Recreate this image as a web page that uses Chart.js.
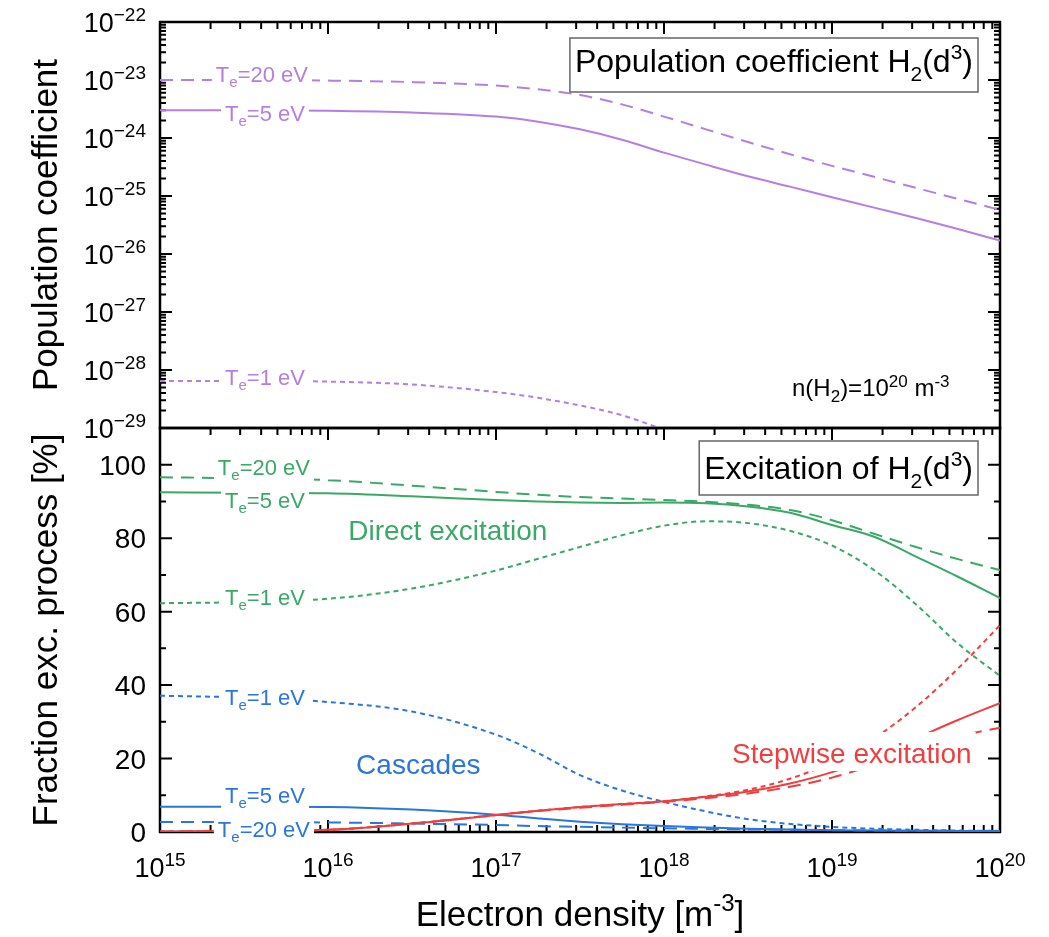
<!DOCTYPE html>
<html>
<head>
<meta charset="utf-8">
<script src="https://cdn.jsdelivr.net/npm/chart.js@4.4.1/dist/chart.umd.min.js"></script>
<style>
  html, body { margin: 0; padding: 0; background: #fff; }
  #wrap { position: relative; width: 1049px; height: 937px; }
  #wrap canvas { position: absolute; left: 0; top: 0; }
</style>
</head>
<body>
<div id="wrap">
  <canvas id="popChart" width="1049" height="937"></canvas>
  <canvas id="fracChart" width="1049" height="937"></canvas>
</div>
<script>
// electron density grid (m^-3)
const density = [1e15, 3.16e15, 1e16, 3.16e16, 1e17, 1.78e17, 3.16e17, 5.62e17, 1e18,
  1.78e18, 3.16e18, 5.62e18, 1e19, 1.78e19, 3.16e19, 5.62e19, 1e20];

// population coefficient H2(d3)
const pop20 = [1.0e-23, 1.0e-23, 9.77e-24, 9.2e-24, 8.0e-24, 6.9e-24, 5.5e-24, 3.8e-24, 2.34e-24,
  1.41e-24, 8.51e-25, 5.25e-25, 3.31e-25, 2.14e-25, 1.38e-25, 8.91e-26, 5.75e-26];
const pop5 = [3.02e-24, 3.02e-24, 2.95e-24, 2.75e-24, 2.34e-24, 1.91e-24, 1.41e-24, 9.33e-25, 5.6e-25,
  3.47e-25, 2.19e-25, 1.45e-25, 9.55e-26, 6.31e-26, 4.17e-26, 2.69e-26, 1.7e-26];
const pop1 = [6.46e-29, 6.46e-29, 6.31e-29, 5.62e-29, 4.17e-29, 3.31e-29, 2.45e-29, 1.66e-29, 9.33e-30,
  5.0e-30, 2.5e-30, null, null, null, null, null, null];

// fraction of excitation process [%]
const direct20 = [96.6, 96.3, 95.8, 94.3, 92.6, 91.8, 91.2, 90.8, 90.4, 89.9, 89.1, 87.7, 84.9, 81.2, 77.6, 74.3, 71.3];
const direct5 = [92.5, 92.4, 92.2, 91.4, 90.4, 90.0, 89.7, 89.6, 89.7, 89.5, 88.6, 86.9, 83.6, 80.4, 75.0, 69.5, 63.7];
const direct1 = [62.3, 62.6, 63.5, 66.3, 71.2, 74.4, 77.6, 80.8, 83.4, 84.6, 84.1, 82.0, 78.0, 71.3, 62.0, 51.3, 42.5];
const cascade1 = [37.1, 36.6, 35.4, 32.8, 26.5, 21.5, 15.5, 11.3, 8.2, 5.6, 3.5, 2.2, 1.4, 0.9, 0.6, 0.4, 0.3];
const cascade5 = [6.9, 6.9, 6.8, 6.1, 4.7, 3.7, 2.8, 2.1, 1.6, 1.2, 0.9, 0.7, 0.5, 0.4, 0.35, 0.3, 0.3];
const cascade20 = [2.7, 2.7, 2.6, 2.3, 1.9, 1.6, 1.4, 1.2, 1.0, 0.85, 0.7, 0.6, 0.5, 0.4, 0.35, 0.3, 0.3];
const step1 = [0.1, 0.3, 0.6, 2.3, 4.6, 5.8, 6.8, 7.6, 8.4, 9.7, 11.5, 14.5, 19.0, 25.5, 34.0, 44.5, 56.3];
const step5 = [0.1, 0.3, 0.6, 2.3, 4.6, 5.8, 6.8, 7.6, 8.4, 9.6, 11.0, 13.2, 16.3, 20.5, 25.5, 30.5, 35.1];
const step20 = [0.1, 0.3, 0.6, 2.3, 4.6, 5.7, 6.6, 7.4, 8.2, 9.2, 10.5, 12.3, 14.8, 18.3, 22.5, 26.0, 28.4];

// tick labels
const xTicks = [1e15, 1e16, 1e17, 1e18, 1e19, 1e20];
const xTickExp = ['15', '16', '17', '18', '19', '20'];
const popTicks = [1e-22, 1e-23, 1e-24, 1e-25, 1e-26, 1e-27, 1e-28, 1e-29];
const popTickExp = ['\u221222', '\u221223', '\u221224', '\u221225', '\u221226', '\u221227', '\u221228', '\u221229'];
const fracTicks = [0, 20, 40, 60, 80, 100];

const FONT = '"Liberation Sans", Arial, sans-serif';
const PURPLE = '#b47fe4', GREEN = '#3aa866', BLUE = '#2a76dc', RED = '#f03e3e';
const SOLID = [], DASHED = [13, 8], DOTTED = [5, 4];

const series = (values, color, dash) => ({
  data: values.map((v, i) => ({ x: density[i], y: v })),
  borderColor: color,
  borderDash: dash,
  borderWidth: 2,
  pointRadius: 0,
  fill: false,
  cubicInterpolationMode: 'monotone'
});

// draws text made of parts [text, size, dy]
function rich(ctx, x, y, parts, align) {
  let w = textWidth(ctx, parts);
  let cx = align === 'right' ? x - w : align === 'center' ? x - w / 2 : x;
  ctx.textAlign = 'left';
  ctx.textBaseline = 'alphabetic';
  parts.forEach(p => {
    ctx.font = p[1] + 'px ' + FONT;
    ctx.fillText(p[0], cx, y + (p[2] || 0));
    cx += ctx.measureText(p[0]).width;
  });
  return w;
}

function textWidth(ctx, parts) {
  let w = 0;
  parts.forEach(p => { ctx.font = p[1] + 'px ' + FONT; w += ctx.measureText(p[0]).width; });
  return w;
}

const te = (val) => [['T', 22], ['e', 15, 5], ['=' + val + ' eV', 22]];
const pow10 = (exp) => [['10', 27], [exp, 19, -11]];

function panelPlugin(cfg) {
  return {
    id: 'panel',
    beforeDatasetsDraw(chart) {
      const { ctx, chartArea: a, scales: { x, y } } = chart;
      ctx.save();
      ctx.strokeStyle = '#000';
      ctx.lineWidth = 2;
      ctx.beginPath();
      for (let d = 15; d <= 20; d++) {
        for (let m = 1; m <= 9; m++) {
          if (d === 20 && m > 1) break;
          const px = x.getPixelForValue(m * Math.pow(10, d));
          const len = m === 1 ? 12 : 7;
          ctx.moveTo(px, a.top); ctx.lineTo(px, a.top + len);
          if (cfg.tickBottom) { ctx.moveTo(px, a.bottom); ctx.lineTo(px, a.bottom - len); }
        }
      }
      cfg.yTicks.forEach(t => {
        const py = y.getPixelForValue(t.v);
        ctx.moveTo(a.left, py); ctx.lineTo(a.left + t.len, py);
        ctx.moveTo(a.right, py); ctx.lineTo(a.right - t.len, py);
      });
      ctx.stroke();
      ctx.lineWidth = 2.5;
      ctx.strokeRect(a.left, a.top, a.width, a.height);
      ctx.restore();
    },
    afterDatasetsDraw(chart) {
      const { ctx, chartArea: a, scales: { x, y } } = chart;
      ctx.save();
      // curve labels with white background
      cfg.labels.forEach(l => {
        const px = x.getPixelForValue(l.x), py = y.getPixelForValue(l.y);
        const w = textWidth(ctx, l.parts);
        const up = l.parts.length === 1 ? 31 : 19;
        ctx.fillStyle = '#fff';
        ctx.fillRect(px - 4, py - up, w + 8, up + 8);
        ctx.fillStyle = l.color;
        rich(ctx, px, py, l.parts, 'left');
      });
      // title box
      const b = cfg.box;
      const bw = textWidth(ctx, b.parts) + 10;
      const bx = a.right - 22 - bw, by = a.top + b.top;
      ctx.fillStyle = '#fff';
      ctx.fillRect(bx, by, bw, 54);
      ctx.strokeStyle = '#666';
      ctx.lineWidth = 1.5;
      ctx.strokeRect(bx, by, bw, 54);
      ctx.fillStyle = '#000';
      rich(ctx, bx + 5, by + b.base, b.parts, 'left');
      if (cfg.note) {
        rich(ctx, x.getPixelForValue(cfg.note.x), y.getPixelForValue(cfg.note.y), cfg.note.parts, 'left');
      }
      // y tick labels
      cfg.yLabels.forEach(t => {
        rich(ctx, a.left - 14, y.getPixelForValue(t.v) + 10, t.parts, 'right');
      });
      // x tick labels
      if (cfg.xLabels) {
        xTicks.forEach((v, i) => {
          rich(ctx, x.getPixelForValue(v), a.bottom + 45, pow10(xTickExp[i]), 'center');
        });
        rich(ctx, (a.left + a.right) / 2, 926,
          [['Electron density [m', 35], ['-3', 24, -15], [']', 35]], 'center');
      }
      // y title
      ctx.translate(57, (a.top + a.bottom) / 2);
      ctx.rotate(-Math.PI / 2);
      ctx.fillStyle = '#000';
      ctx.font = '35px ' + FONT;
      ctx.textAlign = 'center';
      ctx.textBaseline = 'alphabetic';
      ctx.fillText(cfg.yTitle, 0, 0);
      ctx.restore();
    }
  };
}

function options(yScale, padTop, padBottom) {
  return {
    responsive: false,
    animation: false,
    layout: { padding: { left: 160, right: 49, top: padTop, bottom: padBottom } },
    plugins: { legend: { display: false }, tooltip: { enabled: false } },
    scales: {
      x: { type: 'logarithmic', min: 1e15, max: 1e20, display: false },
      y: yScale
    }
  };
}

// top panel
const popMinor = [];
for (let d = -29; d <= -22; d++) {
  for (let m = 1; m <= 9; m++) {
    if (d === -22 && m > 1) break;
    popMinor.push({ v: m * Math.pow(10, d), len: m === 1 ? 12 : 6 });
  }
}

new Chart(document.getElementById('popChart'), {
  type: 'line',
  data: {
    datasets: [
      series(pop20, PURPLE, DASHED),
      series(pop5, PURPLE, SOLID),
      series(pop1, PURPLE, DOTTED)
    ]
  },
  options: options({ type: 'logarithmic', min: 1e-29, max: 1e-22, display: false }, 22, 509),
  plugins: [panelPlugin({
    tickBottom: false,
    yTicks: popMinor,
    yLabels: popTicks.map((v, i) => ({ v: v, parts: pow10(popTickExp[i]) })),
    yTitle: 'Population coefficient',
    labels: [
      { x: 2.15e15, y: 9.24e-24, color: PURPLE, parts: te('20') },
      { x: 2.44e15, y: 1.96e-24, color: PURPLE, parts: te('5') },
      { x: 2.44e15, y: 5.5e-29, color: PURPLE, parts: te('1') }
    ],
    box: { top: 16, base: 34, parts: [['Population coefficient H', 32], ['2', 21, 9], ['(d', 32], ['3', 21, -13], [')', 32]] },
    note: { x: 5.78e18, y: 3.5e-29, parts: [['n(H', 24], ['2', 17, 6], [')=10', 24], ['20', 17, -9], [' m', 24], ['-3', 17, -9]] }
  })]
});

// bottom panel
const fracMinor = [];
for (let v = 0; v <= 100; v += 10) fracMinor.push({ v: v, len: v % 20 === 0 ? 12 : 6 });

new Chart(document.getElementById('fracChart'), {
  type: 'line',
  data: {
    datasets: [
      series(step20, RED, DASHED),
      series(step5, RED, SOLID),
      series(step1, RED, DOTTED),
      series(cascade20, BLUE, DASHED),
      series(cascade5, BLUE, SOLID),
      series(cascade1, BLUE, DOTTED),
      series(direct20, GREEN, DASHED),
      series(direct5, GREEN, SOLID),
      series(direct1, GREEN, DOTTED)
    ]
  },
  options: options({ type: 'linear', min: 0, max: 110, display: false }, 428, 105),
  plugins: [panelPlugin({
    tickBottom: true,
    xLabels: true,
    yTicks: fracMinor,
    yLabels: fracTicks.map(v => ({ v: v, parts: [[String(v), 28]] })),
    yTitle: 'Fraction exc. process [%]',
    labels: [
      { x: 2.21e15, y: 97.2, color: GREEN, parts: te('20') },
      { x: 2.44e15, y: 88.2, color: GREEN, parts: te('5') },
      { x: 2.44e15, y: 61.8, color: GREEN, parts: te('1') },
      { x: 1.32e16, y: 79.5, color: GREEN, parts: [['Direct excitation', 28]] },
      { x: 2.44e15, y: 34.6, color: BLUE, parts: te('1') },
      { x: 1.47e16, y: 15.8, color: BLUE, parts: [['Cascades', 28]] },
      { x: 2.44e15, y: 7.9, color: BLUE, parts: te('5') },
      { x: 2.21e15, y: -1.36, color: BLUE, parts: te('20') },
      { x: 2.54e18, y: 18.8, color: RED, parts: [['Stepwise excitation', 28]] }
    ],
    box: { top: 13, base: 38, parts: [['Excitation of H', 32], ['2', 21, 9], ['(d', 32], ['3', 21, -13], [')', 32]] }
  })]
});
</script>
</body>
</html>
